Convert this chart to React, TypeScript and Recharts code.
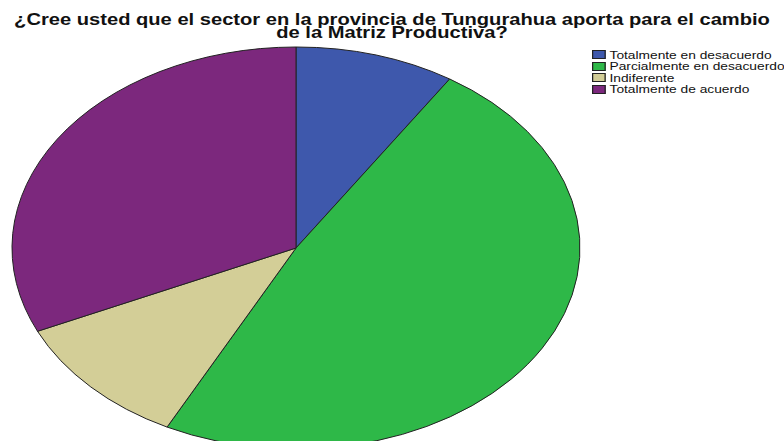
import { PieChart, Pie, Cell, Legend } from "recharts";

const categories = [
  "Totalmente en desacuerdo",
  "Parcialmente en desacuerdo",
  "Indiferente",
  "Totalmente de acuerdo",
];

const percentages = [9.1, 48.4, 10.7, 31.8];

const colors = ["#3E58AC", "#2EB848", "#D3CE97", "#7C287D"];

const titleLines = [
  "¿Cree usted que el sector en la provincia de Tungurahua aporta para el cambio",
  "de la Matriz Productiva?",
];

const data = categories.map((name, i) => ({
  name,
  value: percentages[i],
}));

// the original output is a stretched circle, text stretched too
const STRETCH = 284 / 201;
const TEXT_STRETCH = 1.25;
const RAD = Math.PI / 180;

function EllipseSector(props: any) {
  const { cx, cy, outerRadius, startAngle, endAngle, fill } = props;
  const rx = outerRadius * STRETCH;
  const ry = outerRadius;
  const x0 = cx + rx * Math.cos(-startAngle * RAD);
  const y0 = cy + ry * Math.sin(-startAngle * RAD);
  const x1 = cx + rx * Math.cos(-endAngle * RAD);
  const y1 = cy + ry * Math.sin(-endAngle * RAD);
  const delta = Math.abs(endAngle - startAngle);
  const large = delta > 180 ? 1 : 0;
  const sweep = startAngle > endAngle ? 1 : 0;
  const d = `M${cx},${cy} L${x0},${y0} A${rx},${ry} 0 ${large} ${sweep} ${x1},${y1} Z`;
  return (
    <path
      d={d}
      fill={fill}
      stroke="#222"
      strokeWidth={1}
      strokeLinejoin="round"
    />
  );
}

function LegendBox() {
  return (
    <div
      style={{
        fontFamily: "Liberation Sans, Arial, sans-serif",
        fontSize: 11,
        transform: `scaleX(${TEXT_STRETCH})`,
        transformOrigin: "left top",
      }}
    >
      {categories.map((name, i) => (
        <div
          key={name}
          style={{
            display: "flex",
            alignItems: "center",
            height: 11.5,
            whiteSpace: "nowrap",
          }}
        >
          <span
            style={{
              display: "inline-block",
              width: 9,
              height: 7,
              background: colors[i],
              border: "1px solid #222",
              marginRight: 3,
            }}
          />
          <span style={{ color: "#111" }}>{name}</span>
        </div>
      ))}
    </div>
  );
}

export default function App() {
  return (
    <div
      style={{
        position: "fixed",
        left: 0,
        top: 0,
        width: 784,
        height: 441,
        background: "#fff",
        overflow: "hidden",
      }}
    >
      <div
        style={{
          position: "absolute",
          left: 0,
          top: 13,
          width: 784,
          textAlign: "center",
          fontFamily: "Liberation Sans, Arial, sans-serif",
          fontWeight: "bold",
          fontSize: 16.5,
          lineHeight: "12.5px",
          color: "#111",
          zIndex: 2,
          transform: "scaleX(1.22)",
          transformOrigin: "392px 0",
          whiteSpace: "nowrap",
        }}
      >
        {titleLines.map((line) => (
          <div key={line}>{line}</div>
        ))}
      </div>

      <PieChart
        width={784}
        height={441}
        margin={{ top: 0, right: 0, bottom: 0, left: 0 }}
      >
        <Pie
          data={data}
          dataKey="value"
          nameKey="name"
          cx={296}
          cy={248}
          outerRadius={201}
          startAngle={90}
          endAngle={-270}
          shape={EllipseSector}
          isAnimationActive={false}
        >
          {data.map((entry, i) => (
            <Cell key={entry.name} fill={colors[i]} />
          ))}
        </Pie>
        <Legend
          layout="vertical"
          verticalAlign="top"
          align="right"
          content={() => <LegendBox />}
          wrapperStyle={{ left: 592, top: 49, width: 200 }}
        />
      </PieChart>
    </div>
  );
}
